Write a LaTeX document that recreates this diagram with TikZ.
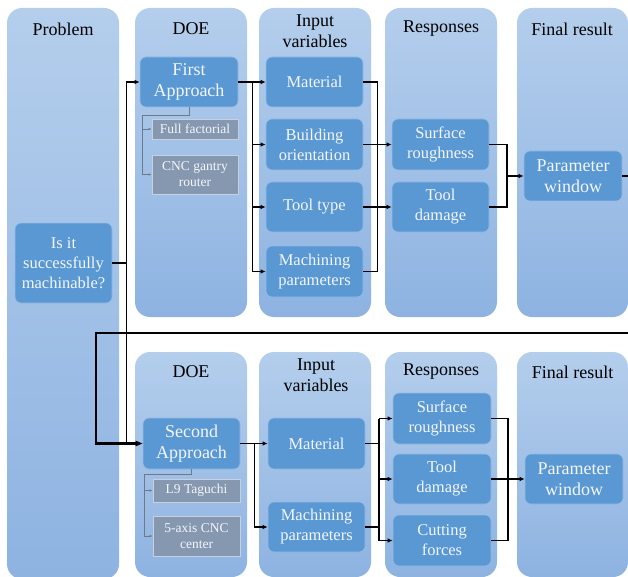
\documentclass[tikz,border=0pt]{standalone}
\usepackage{fontspec}
\setmainfont{Liberation Serif}
\usetikzlibrary{arrows.meta}
\definecolor{colTop}{HTML}{B4CEEC}
\definecolor{colBot}{HTML}{8EB3E1}
\definecolor{boxBlue}{HTML}{5A98D3}
\definecolor{boxEdge}{HTML}{93BCE6}
\definecolor{grayBox}{HTML}{8698B0}
\definecolor{grayEdge}{HTML}{C6D1DF}
\definecolor{grayLine}{HTML}{6E7A8A}
\definecolor{boxText}{HTML}{F3F6FB}
\tikzset{
  col/.style={top color=colTop, bottom color=colBot, rounded corners=15pt},
  hdr/.style={font=\fontsize{18}{21}\selectfont, align=center, text=black, inner sep=0pt},
  bluebox/.style={draw=boxEdge, line width=0.6pt, fill=boxBlue, rounded corners=6pt,
    text=boxText, font=\fontsize{16.5}{20}\selectfont, align=center, inner sep=0pt},
  bigbox/.style={bluebox, font=\fontsize{18}{21}\selectfont},
  graybox/.style={draw=grayEdge, line width=0.8pt, fill=grayBox, text=boxText,
    font=\fontsize{13.5}{16}\selectfont, align=center, inner sep=0pt},
  conn/.style={line width=1.1pt, draw=black},
  arr/.style={conn, -{Latex[length=5pt,width=4.5pt]}},
  fb/.style={line width=2.2pt, draw=black, -{Latex[length=7pt,width=6pt]}},
  gline/.style={line width=0.8pt, draw=grayLine},
  garr/.style={gline, -{Latex[length=3pt,width=2.5pt]}}
}
\begin{document}
\begin{tikzpicture}[x=1pt,y=-1pt]
\path[use as bounding box, clip] (0,0) rectangle (628,577);
\fill[white] (0,0) rectangle (628,577);
% columns
\path[col] (7,8) rectangle (119,579);
\path[col] (135,8) rectangle (247,317);
\path[col] (259,8) rectangle (371,317);
\path[col] (385,8) rectangle (497,317);
\path[col] (517,8) rectangle (628,317);
\path[col] (135,352) rectangle (247,577);
\path[col] (259,352) rectangle (371,577);
\path[col] (385,352) rectangle (497,577);
\path[col] (517,352) rectangle (628,577);
% headers upper
\node[hdr] (hP) at (63,29) {Problem};
\node[hdr] (hD1) at (191,29) {DOE};
\node[hdr] (hI1) at (315,31.5) {Input\\variables};
\node[hdr] (hR1) at (441,29) {Responses};
\node[hdr] (hF1) at (572,29) {Final result};
% headers lower
\node[hdr] (hD2) at (191,372) {DOE};
\node[hdr] (hI2) at (316,375) {Input\\variables};
\node[hdr] (hR2) at (441,372) {Responses};
\node[hdr] (hF2) at (572.5,372) {Final result};
% upper nodes
\node[bluebox, minimum width=97pt, minimum height=80pt] (prob) at (63.5,263) {Is it\\successfully\\machinable?};
\node[bigbox, minimum width=98pt, minimum height=50pt] (fa) at (189,82) {First\\Approach};
\node[graybox, minimum width=86pt, minimum height=20pt] (ff) at (195,129) {Full factorial};
\node[graybox, minimum width=86pt, minimum height=39pt] (cnc1) at (195,174.5) {CNC gantry\\router};
\node[bluebox, minimum width=97pt, minimum height=50pt] (mat1) at (314.5,82) {Material};
\node[bluebox, minimum width=97pt, minimum height=51pt] (bo) at (314.5,144.5) {Building\\orientation};
\node[bluebox, minimum width=97pt, minimum height=50pt] (tt) at (314.5,207) {Tool type};
\node[bluebox, minimum width=97pt, minimum height=51pt] (mp1) at (314.5,271.5) {Machining\\parameters};
\node[bluebox, minimum width=97pt, minimum height=51pt] (sr1) at (440.5,144.5) {Surface\\roughness};
\node[bluebox, minimum width=97pt, minimum height=50pt] (td1) at (440.5,207) {Tool\\damage};
\node[bigbox, minimum width=98pt, minimum height=50pt] (pw1) at (573,176) {Parameter\\window};
% lower nodes
\node[bigbox, minimum width=97pt, minimum height=51pt] (sa) at (191.5,443.5) {Second\\Approach};
\node[graybox, minimum width=87pt, minimum height=23pt] (l9) at (196.5,490.5) {L9 Taguchi};
\node[graybox, minimum width=87pt, minimum height=40pt] (cnc2) at (196.5,536) {5-axis CNC\\center};
\node[bluebox, minimum width=97pt, minimum height=51pt] (mat2) at (316.5,443.5) {Material};
\node[bluebox, minimum width=97pt, minimum height=50pt] (mp2) at (316.5,527) {Machining\\parameters};
\node[bluebox, minimum width=98pt, minimum height=51pt] (sr2) at (442,418.5) {Surface\\roughness};
\node[bluebox, minimum width=98pt, minimum height=50pt] (td2) at (442,479) {Tool\\damage};
\node[bluebox, minimum width=98pt, minimum height=51pt] (cf2) at (442,540.5) {Cutting\\forces};
\node[bigbox, minimum width=98pt, minimum height=50pt] (pw2) at (574,479) {Parameter\\window};
% gray connectors
\coordinate (g1) at (142,115);
\draw[gline] (fa.south) |- (g1);
\draw[garr] (g1) |- (ff.west);
\draw[garr] (g1) |- (cnc1.west);
\coordinate (g2) at (144,474);
\draw[gline] (sa.south) |- (g2);
\draw[garr] (g2) |- (l9.west);
\draw[garr] (g2) |- (cnc2.west);
% problem to approaches
\draw[arr] (prob.east) -- ++(14,0) |- (fa.west);
\draw[arr] (prob.east) -- ++(14,0) |- (sa.west);
% feedback loop
\coordinate (fbR) at (645,333);
\coordinate (fbL) at (96,333);
\draw[fb] (pw1.east) -| (fbR) -- (fbL) |- (sa.west);
% upper flow
\draw[arr] (fa.east) -- (mat1.west);
\draw[arr] (fa.east) -- ++(14,0) |- (bo.west);
\draw[arr] (fa.east) -- ++(14,0) |- (tt.west);
\draw[arr] (fa.east) -- ++(14,0) |- (mp1.west);
\draw[conn] (mat1.east) -- ++(14,0) |- (mp1.east);
\draw[arr] (bo.east) -- (sr1.west);
\draw[arr] (tt.east) -- (td1.west);
\coordinate (jr1) at (507,176);
\draw[conn] (sr1.east) -| (jr1);
\draw[conn] (td1.east) -| (jr1);
\draw[arr] (jr1) -- (pw1.west);
% lower flow
\draw[arr] (sa.east) -- (mat2.west);
\draw[arr] (sa.east) -- ++(14,0) |- (mp2.west);
\coordinate (jv) at (379,0);
\draw[conn] (mat2.east) -- (mat2.east -| jv);
\draw[conn] (mp2.east) -- (mp2.east -| jv);
\draw[conn] (sr2.west -| jv) -- (cf2.west -| jv);
\draw[arr] (sr2.west -| jv) -- (sr2.west);
\draw[arr] (td2.west -| jv) -- (td2.west);
\draw[arr] (cf2.west -| jv) -- (cf2.west);
\coordinate (jo) at (508,0);
\draw[conn] (sr2.east) -- (sr2.east -| jo) -- (cf2.east -| jo) -- (cf2.east);
\draw[arr] (td2.east) -- (pw2.west);
\end{tikzpicture}
\end{document}
